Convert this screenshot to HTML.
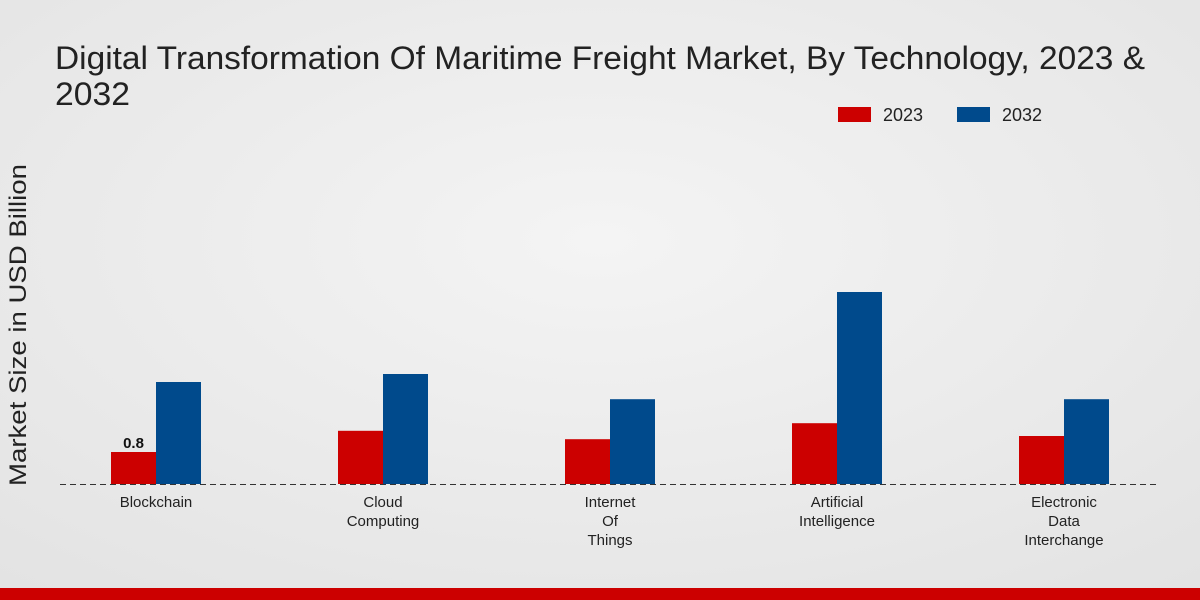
<!DOCTYPE html>
<html><head><meta charset="utf-8"><style>
html,body{margin:0;padding:0;width:1200px;height:600px;overflow:hidden;font-family:"Liberation Sans",sans-serif;}
</style></head><body>
<svg width="1200" height="600" xmlns="http://www.w3.org/2000/svg">
<defs><radialGradient id="bg" cx="0.5" cy="0.4" r="0.8"><stop offset="0" stop-color="#f4f4f4"/><stop offset="1" stop-color="#e2e2e2"/></radialGradient></defs>
<rect width="1200" height="600" fill="url(#bg)"/>
<text x="55" y="69" font-size="32" fill="#222" textLength="1090" lengthAdjust="spacingAndGlyphs">Digital Transformation Of Maritime Freight Market, By Technology, 2023 &amp;</text>
<text x="55" y="105" font-size="32" fill="#222" textLength="75" lengthAdjust="spacingAndGlyphs">2032</text>
<g>
<rect x="838" y="107" width="33" height="15" fill="#cc0000"/>
<text x="883" y="121" font-size="18" fill="#222">2023</text>
<rect x="957" y="107" width="33" height="15" fill="#004a8c"/>
<text x="1002" y="121" font-size="18" fill="#222">2032</text>
</g>
<text transform="translate(26,325) rotate(-90)" font-size="24" fill="#222" text-anchor="middle" textLength="322" lengthAdjust="spacingAndGlyphs">Market Size in USD Billion</text>
<line x1="60" y1="484.5" x2="1160" y2="484.5" stroke="#333" stroke-dasharray="6,4"/>
<g id="bars"></g>
<g id="labels"></g>
<rect x="0" y="588" width="1200" height="12" fill="#cc0000"/>
</svg>
<script>
const categories = [["Blockchain"],["Cloud","Computing"],["Internet","Of","Things"],["Artificial","Intelligence"],["Electronic","Data","Interchange"]];
const values2023 = [0.8,1.33,1.12,1.52,1.2];
const values2032 = [2.55,2.75,2.12,4.8,2.12];
const ns="http://www.w3.org/2000/svg";
const baseY=484, pxPerUnit=40, x0=156, step=227, bw=45;
const yScale=v=>baseY-v*pxPerUnit;
const xCenter=i=>x0+i*step;
const gb=document.getElementById('bars'), gl=document.getElementById('labels');
categories.forEach((c,i)=>{
  const cx=xCenter(i);
  [[values2023,"#cc0000",-bw,"2023"],[values2032,"#004a8c",0,"2032"]].forEach(([arr,col,off,yr])=>{
    const r=document.createElementNS(ns,'rect');
    r.setAttribute('x',cx+off);r.setAttribute('y',yScale(arr[i]));
    r.setAttribute('width',bw);r.setAttribute('height',baseY-yScale(arr[i]));r.setAttribute('fill',col);
    
    
    gb.appendChild(r);
  });
  c.forEach((ln,j)=>{
    const t=document.createElementNS(ns,'text');
    t.setAttribute('x',cx);t.setAttribute('y',507+j*19);t.setAttribute('font-size','15');
    t.setAttribute('text-anchor','middle');t.setAttribute('fill','#222');t.textContent=ln;
    
    
    gl.appendChild(t);
  });
});
const vl=document.createElementNS(ns,'text');
vl.setAttribute('x',xCenter(0)-bw/2);vl.setAttribute('y',yScale(values2023[0])-4);
vl.setAttribute('font-size','15');vl.setAttribute('font-weight','bold');vl.setAttribute('text-anchor','middle');vl.setAttribute('fill','#111');
vl.textContent=values2023[0];


gl.appendChild(vl);
</script>
</body></html>
